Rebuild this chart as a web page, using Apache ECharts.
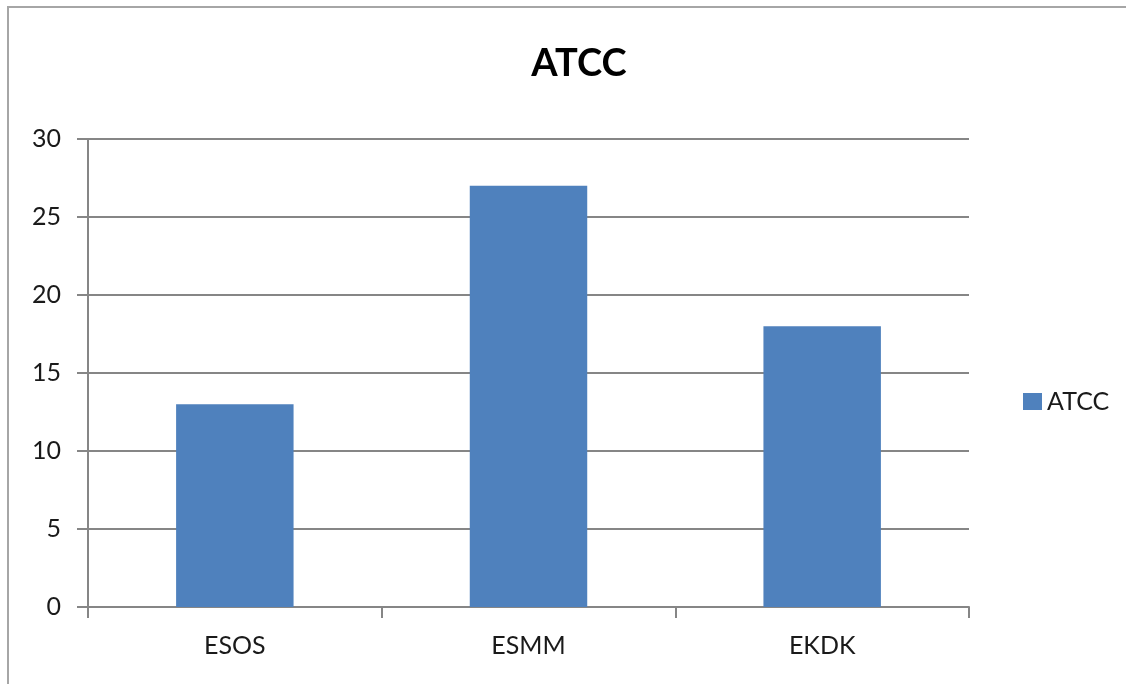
<!DOCTYPE html>
<html><head><meta charset="utf-8">
<script src="https://cdn.jsdelivr.net/npm/echarts@6/dist/echarts.min.js"></script>
<style>
html,body{margin:0;padding:0;background:#fff;overflow:hidden}
#c{width:1126px;height:684px;position:absolute;left:0;top:0}
#frame{position:absolute;left:7px;top:6px;width:1400px;height:900px;border-left:2px solid #a6a6a6;border-top:2px solid #a6a6a6;pointer-events:none}
</style>
</head><body><div id="c"></div><div id="frame"></div>
<script>
var categories = ['ESOS', 'ESMM', 'EKDK'];
var atccValues = [13, 27, 18];
var seriesName = 'ATCC';
var titleText = 'ATCC';

var chart = echarts.init(document.getElementById('c'), null, {renderer: 'canvas'});
var font = 'Lato, "Open Sans", "Liberation Sans", sans-serif';
chart.setOption({
  animation: false,
  backgroundColor: '#fff',
  title: {
    text: titleText, left: 574, top: 40, textAlign: 'center',
    textStyle: {fontFamily: font, fontWeight: 'bold', fontSize: 38, color: '#000'}
  },
  legend: {
    left: 1018, top: 384, itemWidth: 19, itemHeight: 17, itemGap: 6,
    icon: 'rect',
    textStyle: {fontFamily: font, fontSize: 25, color: '#1a1a1a'},
    data: [seriesName]
  },
  grid: {left: 88, right: 157, top: 139, bottom: 77, containLabel: false},
  xAxis: {
    type: 'category', data: categories,
    axisLine: {lineStyle: {color: '#868686', width: 2}},
    axisTick: {show: true, alignWithLabel: false, length: 11, lineStyle: {color: '#868686', width: 2}},
    axisLabel: {margin: 26, fontFamily: font, fontSize: 25, color: '#1a1a1a'}
  },
  yAxis: {
    type: 'value', min: 0, max: 30, interval: 5,
    axisLine: {show: true, lineStyle: {color: '#868686', width: 2}},
    axisTick: {show: true, length: 11, lineStyle: {color: '#868686', width: 2}},
    splitLine: {lineStyle: {color: '#868686', width: 2}},
    axisLabel: {margin: 27, fontFamily: font, fontSize: 25, color: '#1a1a1a'}
  },
  series: [{
    name: seriesName, type: 'bar', data: atccValues,
    barCategoryGap: '60%',
    itemStyle: {color: '#4F81BD'}
  }]
});
</script></body></html>
